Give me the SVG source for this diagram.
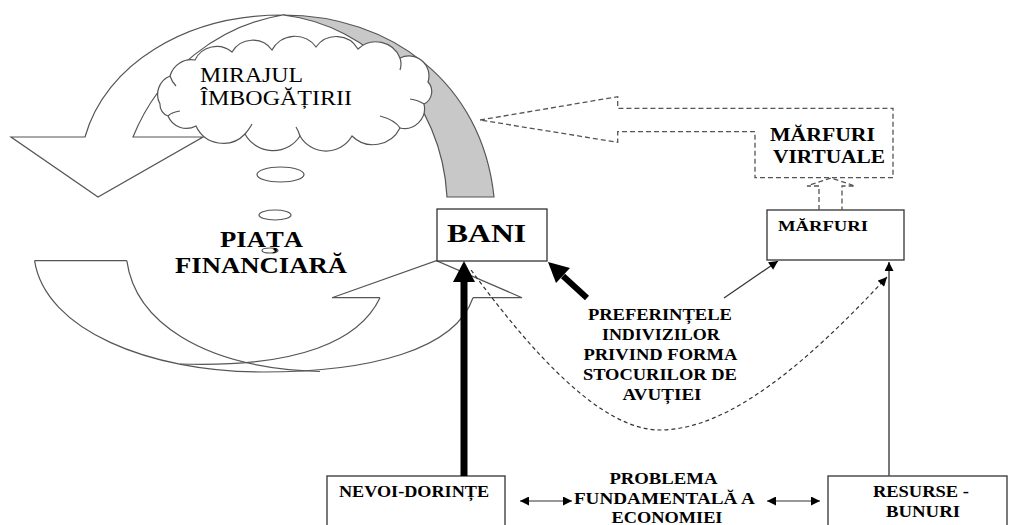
<svg xmlns="http://www.w3.org/2000/svg" width="1010" height="525" viewBox="0 0 1010 525">
<defs>
<style>
.ln{fill:none;stroke:#555;stroke-width:1.2}
.wf{fill:#fff;stroke:#555;stroke-width:1.2}
.gf{fill:#c8c8c8;stroke:#555;stroke-width:1.2}
.dash{fill:none;stroke:#555;stroke-width:1.3;stroke-dasharray:5,3}
.box{fill:#fff;stroke:#333;stroke-width:1.3}
.thin{fill:none;stroke:#333;stroke-width:1.2}
text{font-family:'Liberation Serif','Times New Roman','DejaVu Serif',serif;fill:#000}
.b{font-weight:bold}
</style>
<marker id="ah" viewBox="0 0 10 10" refX="10" refY="5" markerWidth="10" markerHeight="9" markerUnits="userSpaceOnUse" orient="auto-start-reverse">
<path d="M0,0 L10,5 L0,10 z" fill="#000"/>
</marker>
</defs>

<g id="financial-market-arrows">
<path class="gf" d="M283,15 C390,15 482,82 494,197 L447,197 C442,100 370,25 283,15 Z"/>
<path class="wf" d="M85,137 C105,65 185,15 283,15 C220,25 160,70 133,137 L203,137 L98,197 L11,137 Z"/>
<path class="ln" d="M34.6,260.7 L126.8,260.7"/>
<path class="ln" d="M34.6,260.7 C45,330 150,372 262,372 C370,372 455,350 473,297.7"/>
<path class="ln" d="M473,297.7 L522,297.7 L436.4,260.7 L332,297.7 L380,297.7"/>
<path class="ln" d="M380,297.7 C360,340 300,368 180,364"/>
<path class="ln" d="M126.8,260.7 C135,320 200,368 320,371.5"/>
</g>

<g id="mirajul">
<path class="wf" d="M160,104 A20,20 0 0 1 170,76 A22,22 0 0 1 195,60 A24,24 0 0 1 232,52 A24,24 0 0 1 272,50 A26,26 0 0 1 316,47 A25,25 0 0 1 358,49 A26,26 0 0 1 400,58 A20,20 0 0 1 428,82 A14,14 0 0 1 424,104 A20,20 0 0 1 400,128 A30,30 0 0 1 352,136 A30,30 0 0 1 300,136 A32,32 0 0 1 245,134 A30,30 0 0 1 196,126 A20,20 0 0 1 168,116 A12,12 0 0 1 160,104 Z"/>
<path class="ln" d="M168,116 Q172,112 180,111 M170,76 Q172,82 176,86 M400,58 Q402,64 400,70 M424,104 Q418,100 410,99 M400,128 Q395,120 380,116 M300,136 Q298,130 296,127 M245,134 Q250,128 252,124"/>
<text x="200" y="82" font-size="22" textLength="103" lengthAdjust="spacingAndGlyphs">MIRAJUL</text>
<text x="200" y="105" font-size="22" textLength="152" lengthAdjust="spacingAndGlyphs">ÎMBOGĂȚIRII</text>
<ellipse class="wf" cx="280.5" cy="174.5" rx="23.5" ry="7.5"/>
<ellipse class="wf" cx="275" cy="215" rx="16" ry="5"/>
<ellipse class="wf" cx="270" cy="250.5" rx="8" ry="2.5"/>
</g>

<g id="piata">
<text class="b" x="220" y="247" font-size="23" textLength="83" lengthAdjust="spacingAndGlyphs">PIAȚA</text>
<text class="b" x="175" y="273" font-size="23" textLength="172" lengthAdjust="spacingAndGlyphs">FINANCIARĂ</text>
</g>

<g id="bani">
<rect class="box" x="437" y="209" width="110" height="52"/>
<text class="b" x="447" y="242" font-size="25" textLength="79" lengthAdjust="spacingAndGlyphs">BANI</text>
</g>

<g id="marfuri-virtuale">
<path class="dash" d="M480,120 L617.7,96.7 L617.7,108.3 L893,108.3 L893,177.7 L755,177.7 L755,131.7 L617.7,131.7 L617.7,142.3 Z"/>
<text class="b" x="770" y="141" font-size="19" textLength="105" lengthAdjust="spacingAndGlyphs">MĂRFURI</text>
<text class="b" x="773" y="163" font-size="19" textLength="112" lengthAdjust="spacingAndGlyphs">VIRTUALE</text>
</g>

<g id="marfuri">
<rect class="box" x="767" y="210" width="137" height="50"/>
<text class="b" x="778" y="231" font-size="15" textLength="90" lengthAdjust="spacingAndGlyphs">MĂRFURI</text>
</g>

<g id="preferinte">
<text class="b" font-size="17" text-anchor="middle">
<tspan x="662" y="320" textLength="144" lengthAdjust="spacingAndGlyphs">PREFERINȚELE</tspan>
<tspan x="663" y="340" textLength="118" lengthAdjust="spacingAndGlyphs">INDIVIZILOR</tspan>
<tspan x="662" y="360" textLength="153" lengthAdjust="spacingAndGlyphs">PRIVIND FORMA</tspan>
<tspan x="662" y="380" textLength="154" lengthAdjust="spacingAndGlyphs">STOCURILOR DE</tspan>
<tspan x="662" y="400" textLength="79" lengthAdjust="spacingAndGlyphs">AVUȚIEI</tspan>
</text>
</g>

<g id="nevoi-dorinte">
<rect class="box" x="327" y="476" width="178" height="60"/>
<text class="b" x="339" y="497" font-size="16" textLength="150" lengthAdjust="spacingAndGlyphs">NEVOI-DORINȚE</text>
</g>

<g id="problema">
<text class="b" font-size="17" text-anchor="middle">
<tspan x="665" y="484" textLength="107" lengthAdjust="spacingAndGlyphs">PROBLEMA</tspan>
<tspan x="666" y="504" textLength="180" lengthAdjust="spacingAndGlyphs">FUNDAMENTALĂ A</tspan>
<tspan x="667" y="523" textLength="111" lengthAdjust="spacingAndGlyphs">ECONOMIEI</tspan>
</text>
</g>

<g id="resurse-bunuri">
<rect class="box" x="828" y="476" width="179" height="60"/>
<text class="b" font-size="17" text-anchor="middle">
<tspan x="923" y="497" textLength="96" lengthAdjust="spacingAndGlyphs">RESURSE -</tspan>
<tspan x="923" y="517" textLength="74" lengthAdjust="spacingAndGlyphs">BUNURI</tspan>
</text>
</g>

<g id="connectors">
<path class="dash" d="M819,210 L819,186 L807,186 L831,178 L855,186 L842,186 L842,210"/>
<path fill="none" stroke="#333" stroke-width="1.2" stroke-dasharray="4,3" d="M471,270 C530,350 600,430 660,430 C730,430 810,360 887,277" marker-end="url(#ah)"/>
<path class="thin" d="M724,298 L778,261" marker-end="url(#ah)"/>
<path fill="none" stroke="#555" stroke-width="1.6" d="M889,476 L889,262" marker-end="url(#ah)"/>
<path class="thin" d="M520,501 L572,501" marker-start="url(#ah)" marker-end="url(#ah)"/>
<path class="thin" d="M767,501 L820,501" marker-start="url(#ah)" marker-end="url(#ah)"/>
<path fill="none" stroke="#000" stroke-width="7" d="M464,476 L464,278"/>
<path fill="#000" d="M464,261 L475,282 L453,282 Z"/>
<path fill="none" stroke="#000" stroke-width="6" d="M587,298 L563,276"/>
<path fill="#000" d="M548,262 L570,268 L556,283 Z"/>
</g>
</svg>
